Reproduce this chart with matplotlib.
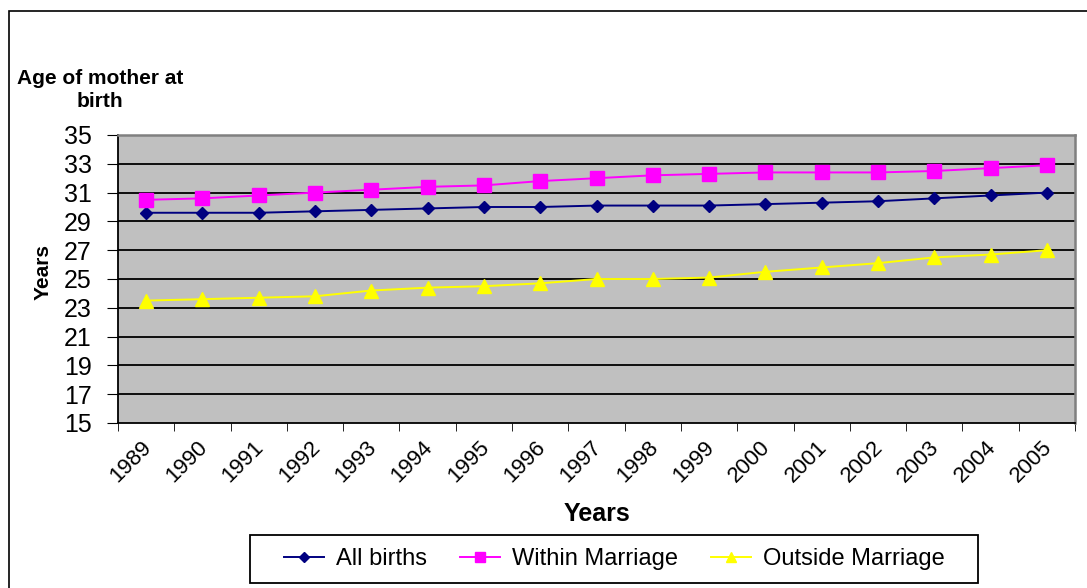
import matplotlib
matplotlib.use("Agg")
import matplotlib.pyplot as plt
from matplotlib.patches import Rectangle
from matplotlib.transforms import ScaledTranslation

plt.rcParams['font.family'] = ['Liberation Sans', 'DejaVu Sans']

years = ['1989', '1990', '1991', '1992', '1993', '1994', '1995', '1996', '1997',
         '1998', '1999', '2000', '2001', '2002', '2003', '2004', '2005']
all_births = [29.6, 29.6, 29.6, 29.7, 29.8, 29.9, 30.0, 30.0, 30.1,
              30.1, 30.1, 30.2, 30.3, 30.4, 30.6, 30.8, 31.0]
within_marriage = [30.5, 30.6, 30.8, 31.0, 31.2, 31.4, 31.5, 31.8, 32.0,
                   32.2, 32.3, 32.4, 32.4, 32.4, 32.5, 32.7, 32.9]
outside_marriage = [23.5, 23.6, 23.7, 23.8, 24.2, 24.4, 24.5, 24.7, 25.0,
                    25.0, 25.1, 25.5, 25.8, 26.1, 26.5, 26.7, 27.0]
y_ticks = [15, 17, 19, 21, 23, 25, 27, 29, 31, 33, 35]

W, H = 1087, 588
fig = plt.figure(figsize=(W / 100, H / 100), dpi=100)
fig.patch.set_facecolor('white')

# outer border
fig.add_artist(Rectangle((9 / W, -0.01), (W + 10) / W, (H - 11) / H + 0.01,
                         transform=fig.transFigure, fill=False,
                         edgecolor='black', linewidth=1.2))

left, right, top, bottom = 118, 1075, 135, 423
ax = fig.add_axes([left / W, 1 - bottom / H, (right - left) / W, (bottom - top) / H])
ax.set_facecolor('#C0C0C0')

x = list(range(len(years)))
ax.plot(x, all_births, color='#000080', marker='D', markersize=6.2, linewidth=1.4,
        label='All births', zorder=3)
ax.plot(x, within_marriage, color='#FF00FF', marker='s', markersize=9.5, linewidth=1.4,
        label='Within Marriage', zorder=3)
ax.plot(x, outside_marriage, color='#FFFF00', marker='^', markersize=9.5, linewidth=1.4,
        label='Outside Marriage', zorder=3)

ax.set_xlim(-0.5, len(years) - 0.5)
ax.set_ylim(15, 35)
ax.set_yticks(y_ticks)
ax.set_yticklabels([str(v) for v in y_ticks], fontsize=18)
for v in y_ticks[1:-1]:
    ax.axhline(v, color='black', linewidth=1.3, zorder=1)

ax.set_xticks(x)
ax.set_xticklabels(years, rotation=45, fontsize=16, ha='right', va='center',
                   rotation_mode='anchor')
ax.tick_params(axis='x', length=0, pad=15)
offset = ScaledTranslation(2 / 100, 0, fig.dpi_scale_trans)
for lab in ax.get_xticklabels():
    lab.set_transform(lab.get_transform() + offset)
ax.set_xticks([i - 0.5 for i in range(len(years) + 1)], minor=True)
ax.tick_params(axis='x', which='minor', length=6, direction='out', color='black')
ax.tick_params(axis='y', length=8, direction='out', color='black', pad=11)

for s in ['left', 'bottom']:
    ax.spines[s].set_color('black')
    ax.spines[s].set_linewidth(1.3)
for s in ['top', 'right']:
    ax.spines[s].set_color('#808080')
    ax.spines[s].set_linewidth(1.8)

ax.set_ylabel('Years', fontsize=15, fontweight='bold')
ax.yaxis.set_label_coords((53 - left) / (right - left), (bottom - 272) / (bottom - top))
ax.set_xlabel('Years', fontsize=18, fontweight='bold')
ax.xaxis.set_label_coords((597 - left) / (right - left), -(502 - bottom) / (bottom - top))

fig.text(100 / W, 1 - 90 / H, 'Age of mother at\nbirth', fontsize=15,
         fontweight='bold', ha='center', va='center', linespacing=1.25)

# legend frame drawn as its own box
fig.add_artist(Rectangle((250 / W, 1 - 583 / H), (978 - 250) / W, (583 - 535) / H,
                         transform=fig.transFigure, facecolor='white',
                         edgecolor='black', linewidth=1.3, zorder=1))
leg = fig.legend(loc='center', bbox_to_anchor=(614 / W, 1 - 559 / H), ncol=3,
                 fontsize=17, frameon=False,
                 handlelength=1.7, columnspacing=1.4, handletextpad=0.5,
                 borderpad=0.35, markerscale=0.8, borderaxespad=0)
leg.set_zorder(2)

fig.savefig('out.png', dpi=100)
